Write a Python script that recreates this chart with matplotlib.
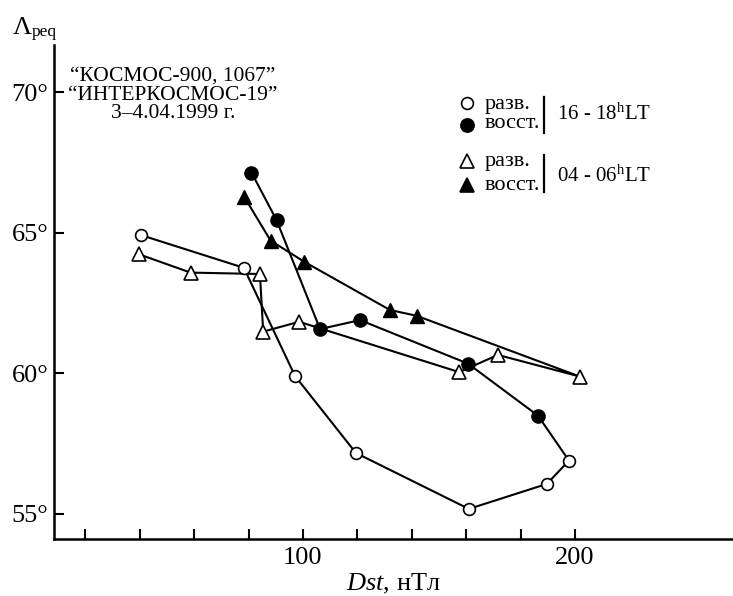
"""
Λpeq против Dst: КОСМОС-900, 1067 / ИНТЕРКОСМОС-19, 3-4.04.1999
"""
import matplotlib
matplotlib.use('Agg')
import matplotlib.pyplot as plt
from matplotlib.lines import Line2D

# 16-18 LT (кружки): развитие, затем восстановление
circ_dev_dst = [40.3, 78.3, 97.1, 119.5, 161.0, 189.7, 197.8]
circ_dev_lat = [64.92, 63.75, 59.90, 57.16, 55.17, 56.06, 56.89]
circ_rec_dst = [186.4, 160.7, 121.0, 106.3, 90.3, 81.1]
circ_rec_lat = [58.49, 60.34, 61.89, 61.57, 65.45, 67.14]

# 04-06 LT (треугольники)
tri_dev_dst = [39.8, 58.7, 84.2, 85.4, 98.6, 157.4, 171.7, 201.8]
tri_dev_lat = [64.23, 63.58, 63.53, 61.48, 61.83, 60.04, 60.65, 59.88]
tri_rec_dst = [141.9, 132.0, 100.4, 88.1, 78.4]
tri_rec_lat = [62.04, 62.25, 63.97, 64.72, 66.28]

x_ticks = [20, 40, 60, 80, 100, 120, 140, 160, 180, 200]
x_labels = ['', '', '', '', '100', '', '', '', '', '200']
y_ticks = [55, 60, 65, 70]
y_labels = ['55°', '60°', '65°', '70°']

title_lines = ['“КОСМОС-900, 1067”', '“ИНТЕРКОСМОС-19”', '3–4.04.1999 г.']

plt.rcParams['font.family'] = ['Liberation Serif', 'DejaVu Serif']
plt.rcParams['mathtext.fontset'] = 'custom'
plt.rcParams['mathtext.rm'] = 'Liberation Serif'
plt.rcParams['mathtext.it'] = 'Liberation Serif:italic'

W, H = 733, 596


def fx(px):
    return px / W


def fy(py):
    return 1 - py / H


fig = plt.figure(figsize=(7.33, 5.96), dpi=100)
ax = fig.add_axes([fx(54), fy(538.7), (W - 54) / W, (538.7 - 45) / H])

# линии
ax.plot(circ_dev_dst + circ_rec_dst, circ_dev_lat + circ_rec_lat,
        color='black', lw=1.5, zorder=2)
ax.plot(tri_dev_dst + tri_rec_dst, tri_dev_lat + tri_rec_lat,
        color='black', lw=1.5, zorder=2)

# маркеры
ax.plot(tri_rec_dst, tri_rec_lat, ls='none', marker='^', ms=10,
        mfc='black', mec='black', mew=1.0, zorder=3)
ax.plot(circ_rec_dst, circ_rec_lat, ls='none', marker='o', ms=9.5,
        mfc='black', mec='black', mew=1.0, zorder=3)
ax.plot(tri_dev_dst, tri_dev_lat, ls='none', marker='^', ms=10,
        mfc='white', mec='black', mew=1.2, zorder=4)
ax.plot(circ_dev_dst, circ_dev_lat, ls='none', marker='o', ms=8.5,
        mfc='white', mec='black', mew=1.2, zorder=4)

ax.set_xlim(8.5, 258.1)
ax.set_ylim(54.11, 71.68)
ax.set_xticks(x_ticks)
ax.set_xticklabels(x_labels)
ax.set_yticks(y_ticks)
ax.set_yticklabels(y_labels)
ax.tick_params(direction='in', length=7, width=1.5, labelsize=19)
ax.tick_params(axis='x', pad=6)
ax.tick_params(axis='y', pad=4)

for side in ['top', 'right']:
    ax.spines[side].set_visible(False)
for side in ['left', 'bottom']:
    ax.spines[side].set_linewidth(1.8)

ax.set_xlabel('$Dst$, нТл', fontsize=19, labelpad=2)

# подпись оси Y
fig.text(fx(13), fy(34), 'Λ', fontsize=19, va='baseline', ha='left')
fig.text(fx(32), fy(36), 'peq', fontsize=12.5, va='baseline', ha='left')

# заголовок в углу
for text, base in zip(title_lines, [81.0, 99.5, 118.0]):
    fig.text(fx(173), fy(base), text, fontsize=15.5, ha='center', va='baseline')

# легенда
leg_x = fx(467)
leg_items = [
    (103.3, 'o', 'white', 8.5, 'разв.', 109),
    (125.0, 'o', 'black', 9.5, 'восст.', 128.5),
    (160.5, '^', 'white', 10, 'разв.', 166),
    (184.5, '^', 'black', 10, 'восст.', 189.5),
]
for py, mk, fc, ms, label, base in leg_items:
    fig.add_artist(Line2D([leg_x], [fy(py)], transform=fig.transFigure,
                          marker=mk, ms=ms, mfc=fc, mec='black', mew=1.2, ls='none'))
    fig.text(fx(485), fy(base), label, fontsize=16, ha='left', va='baseline')

for y0, y1 in [(97, 133), (155, 192)]:
    fig.add_artist(Line2D([fx(544), fx(544)], [fy(y0), fy(y1)],
                          transform=fig.transFigure, color='black', lw=1.6))

fig.text(fx(557), fy(120), '16 - 18$^{\\rm h}$LT', fontsize=15, ha='left', va='baseline')
fig.text(fx(557), fy(182), '04 - 06$^{\\rm h}$LT', fontsize=15, ha='left', va='baseline')

plt.savefig('out.png', dpi=100)
plt.close()
